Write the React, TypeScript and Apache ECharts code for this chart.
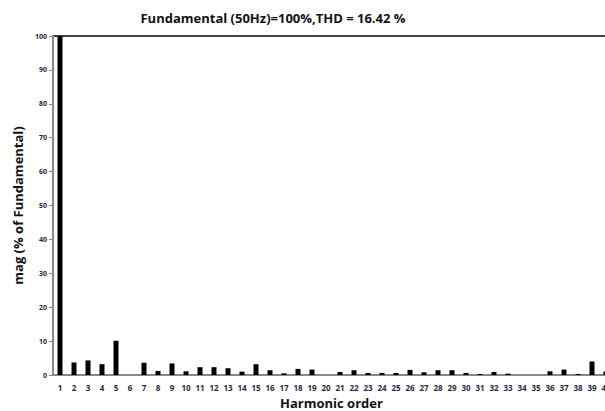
import React, { useEffect, useRef } from "react";
import * as echarts from "echarts";

const categories: string[] = Array.from({ length: 40 }, (_, i) => String(i + 1));
const magnitudes: number[] = [
  100, 3.7, 4.3, 3.2, 10.1, 0, 3.6, 1.2, 3.4, 1.1,
  2.3, 2.3, 2.0, 1.0, 3.2, 1.4, 0.5, 1.8, 1.6, 0,
  0.9, 1.4, 0.6, 0.6, 0.6, 1.5, 0.8, 1.4, 1.4, 0.6,
  0.3, 0.9, 0.4, 0, 0, 1.1, 1.6, 0.3, 4.0, 1.0,
];
const titleText = "Fundamental (50Hz)=100%,THD = 16.42 %";
const xName = "Harmonic order";
const yName = "mag (% of Fundamental)";

const FONT = "'Open Sans', 'Liberation Sans', sans-serif";

export default function App() {
  const ref = useRef<HTMLDivElement>(null);
  useEffect(() => {
    if (!ref.current) return;
    const chart = echarts.init(ref.current, undefined, { renderer: "svg" });
    chart.setOption({
      animation: false,
      backgroundColor: "#ffffff",
      title: {
        text: titleText,
        left: 268,
        top: 6,
        textAlign: "center",
        textStyle: { fontFamily: FONT, fontSize: 13, fontWeight: "bold", color: "#111" },
      },
      grid: {
        left: 53,
        top: 36,
        width: 560,
        bottom: 36,
        show: true,
        borderColor: "#444",
        borderWidth: 2,
        containLabel: false,
        outerBoundsMode: "none",
      },
      xAxis: {
        type: "category",
        data: categories,
        axisLine: { show: true, lineStyle: { color: "#888", width: 2 } },
        axisTick: { show: false },
        axisLabel: { interval: 0, fontFamily: FONT, fontSize: 8, fontWeight: "bold", color: "#1f2a44", margin: 8 },
        splitLine: { show: false },
      },
      yAxis: {
        type: "value",
        min: 0,
        max: 100,
        interval: 10,
        name: yName,
        nameLocation: "middle",
        nameGap: 27,
        nameTextStyle: { fontFamily: FONT, fontSize: 13, fontWeight: "bold", color: "#111" },
        axisLine: { show: true, lineStyle: { color: "#888", width: 2 } },
        axisTick: { show: true, length: 4, lineStyle: { color: "#888" } },
        axisLabel: { fontFamily: FONT, fontSize: 7, fontWeight: "bold", color: "#1f2a44", margin: 6 },
        splitLine: { show: false },
      },
      graphic: [
        {
          type: "text",
          left: 280,
          top: 396,
          style: { text: xName, font: `bold 13px ${FONT}`, fill: "#111" },
        },
      ],
      series: [
        {
          type: "bar",
          data: magnitudes,
          barWidth: 5,
          itemStyle: { color: "#000" },
        },
      ],
    });
    return () => chart.dispose();
  }, []);
  return <div ref={ref} style={{ width: 605, height: 411, position: "absolute", left: 0, top: 0 }} />;
}
